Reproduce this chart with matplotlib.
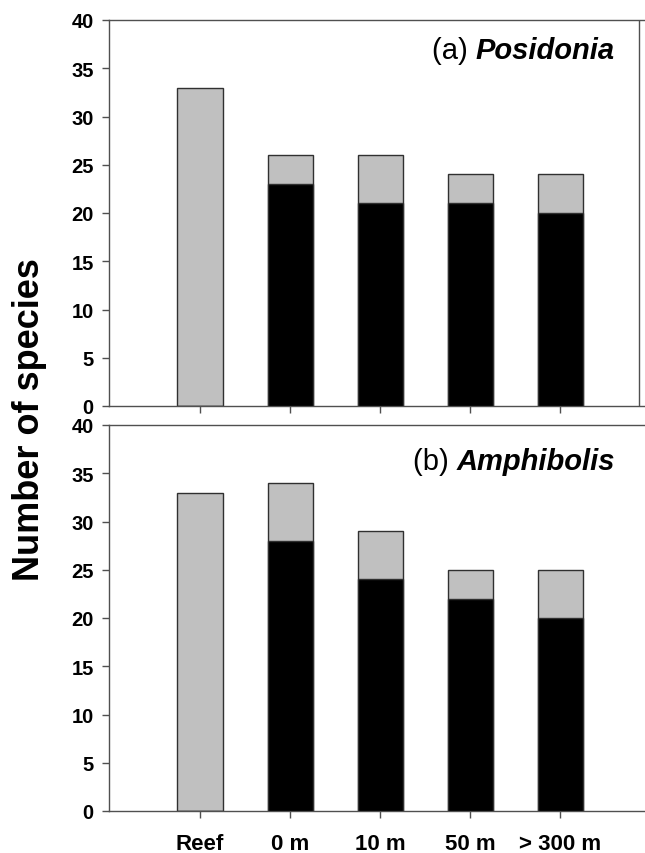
import matplotlib
matplotlib.use("Agg")
import matplotlib.pyplot as plt
import numpy as np

categories = ["Reef", "0 m", "10 m", "50 m", "> 300 m"]
# panel (a) Posidonia
pos_total = [33, 26, 26, 24, 24]
pos_black = [0, 23, 21, 21, 20]
# panel (b) Amphibolis
amp_total = [33, 34, 29, 25, 25]
amp_black = [0, 28, 24, 22, 20]

plt.rcParams['font.family'] = ['Liberation Sans', 'DejaVu Sans']

fig = plt.figure(figsize=(6.45, 8.54), dpi=100)
W, H = 645, 854
def ax_rect(l, r, t, b):
    return [l / W, 1 - b / H, (r - l) / W, (b - t) / H]

ax1 = fig.add_axes(ax_rect(109, 645, 21, 407))
ax2 = fig.add_axes(ax_rect(109, 645, 426, 812))

x = np.arange(len(categories))
grey = '#c0c0c0'
edge = '#303030'
spine_c = '#505050'

def draw(ax, total, black, title_a, title_b, show_xlabels, right_spine, ty):
    ax.bar(x, total, width=0.5, color=grey, edgecolor=edge, linewidth=1.0, zorder=2)
    ax.bar(x, black, width=0.5, color='black', edgecolor=edge, linewidth=1.0, zorder=3)
    ax.set_xlim(-1.011, 4.944)
    ax.set_ylim(0, 40)
    ax.set_yticks(range(0, 41, 5))
    ax.set_xticks(x)
    if show_xlabels:
        ax.set_xticklabels(categories, fontsize=16, fontweight='bold')
    else:
        ax.set_xticklabels([])
    for lab in ax.get_yticklabels():
        lab.set_fontweight('bold')
        lab.set_fontsize(14.5)
    ax.tick_params(axis='both', direction='out', length=5, width=1, color=spine_c)
    ax.tick_params(axis='y', pad=6)
    ax.tick_params(axis='x', pad=11)
    for s in ['left', 'bottom', 'top']:
        ax.spines[s].set_color(spine_c)
        ax.spines[s].set_linewidth(1)
    ax.spines['right'].set_visible(False)
    if right_spine:
        ax.axvline(4.878, color=spine_c, linewidth=1, zorder=4)
    tb = ax.text(4.61, ty, title_b, ha='right', va='center', fontsize=21,
                 fontweight='bold', fontstyle='italic')
    ax.annotate(title_a, xy=(0, 0.5), xycoords=tb, ha='right', va='center',
                fontsize=21)

draw(ax1, pos_total, pos_black, "(a) ", "Posidonia", False, True, 36.9)
draw(ax2, amp_total, amp_black, "(b) ", "Amphibolis", True, False, 36.3)

fig.text(30 / W, 1 - 420 / H, "Number of species", rotation=90, ha='center', va='center',
         fontsize=26, fontweight='bold')

fig.savefig("out.png", dpi=100)
